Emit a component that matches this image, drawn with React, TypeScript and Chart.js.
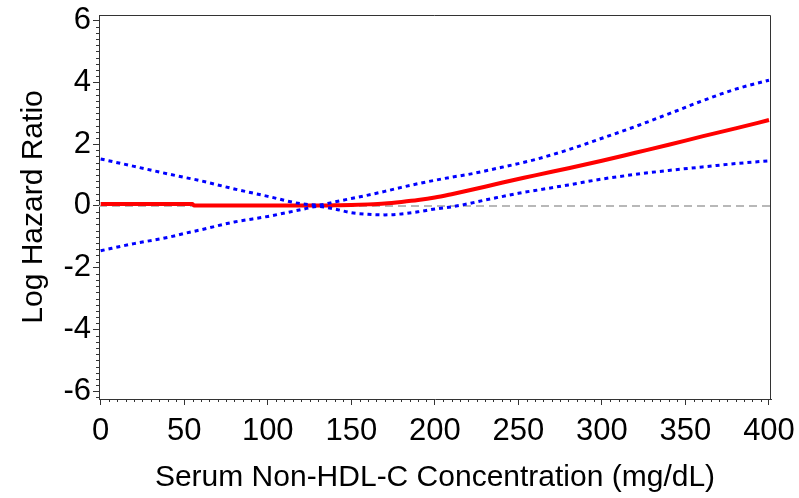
import React, { useEffect, useRef } from "react";
import { Chart, registerables } from "chart.js";

Chart.register(...registerables);

// Serum non-HDL-C concentration (mg/dL)
const xValues = [0, 20, 40, 55, 56, 80, 100, 120, 130, 140, 150, 160, 170, 180, 190, 200, 210, 220, 230, 240, 250, 260, 280, 300, 320, 340, 360, 380, 400];
// Log hazard ratio estimate
const estimate = [0.06, 0.06, 0.06, 0.06, 0.01, 0.01, 0.01, 0.01, 0.01, 0.02, 0.03, 0.05, 0.08, 0.13, 0.19, 0.27, 0.38, 0.5, 0.62, 0.75, 0.87, 0.99, 1.22, 1.46, 1.72, 1.98, 2.25, 2.51, 2.78];
// Upper 95% confidence limit
const upperCI = [1.52, 1.28, 1.04, 0.87, 0.86, 0.55, 0.31, 0.07, 0.03, 0.13, 0.24, 0.35, 0.47, 0.6, 0.72, 0.83, 0.93, 1.02, 1.13, 1.25, 1.37, 1.5, 1.82, 2.19, 2.57, 2.98, 3.4, 3.78, 4.07];
// Lower 95% confidence limit
const lowerCI = [-1.45, -1.22, -1.02, -0.83, -0.82, -0.52, -0.34, -0.12, -0.02, -0.1, -0.22, -0.27, -0.29, -0.26, -0.19, -0.1, -0.03, 0.07, 0.19, 0.3, 0.41, 0.5, 0.68, 0.87, 1.02, 1.15, 1.26, 1.37, 1.46];
// Reference line
const referenceX = [-1, 401.2];
const referenceY = [0, 0];

const xTickValues = [0, 50, 100, 150, 200, 250, 300, 350, 400];
const yTickValues = [-6, -4, -2, 0, 2, 4, 6];
const xMinorStep = 5;
const yMinorStep = 0.2;

const xTitle = "Serum Non-HDL-C Concentration (mg/dL)";
const yTitle = "Log Hazard Ratio";

const FONT = "'Liberation Sans', Arial, Helvetica, sans-serif";

export default function App() {
  const ref = useRef<HTMLCanvasElement | null>(null);

  useEffect(() => {
    document.body.style.margin = "0";
    const canvas = ref.current;
    if (!canvas) return;

    const pts = (ys: number[]) => xValues.map((x, i) => ({ x, y: ys[i] }));

    const framePlugin = {
      id: "frameAndMinor",
      afterDraw(chart: any) {
        const { ctx, chartArea, scales } = chart;
        const x = scales.x;
        const y = scales.y;
        ctx.save();
        ctx.strokeStyle = "#333333";
        ctx.lineWidth = 1;
        // top and right frame
        ctx.beginPath();
        ctx.moveTo(chartArea.left, chartArea.top + 0.5);
        ctx.lineTo(chartArea.right - 0.5, chartArea.top + 0.5);
        ctx.lineTo(chartArea.right - 0.5, chartArea.bottom);
        ctx.stroke();
        // minor ticks on y
        ctx.beginPath();
        for (let i = -40; i <= 40; i++) {
          const v = i * yMinorStep;
          if (i % 10 === 0) continue;
          const py = Math.round(y.getPixelForValue(v)) + 0.5;
          if (py < chartArea.top || py > chartArea.bottom) continue;
          ctx.moveTo(chartArea.left - 3, py);
          ctx.lineTo(chartArea.left, py);
        }
        // minor ticks on x
        for (let v = 0; v <= 400; v += xMinorStep) {
          if (v % 50 === 0) continue;
          const px = Math.round(x.getPixelForValue(v)) + 0.5;
          ctx.moveTo(px, chartArea.bottom);
          ctx.lineTo(px, chartArea.bottom + 3);
        }
        ctx.stroke();
        ctx.restore();
      },
    };

    const chart = new Chart(canvas, {
      type: "line",
      data: {
        datasets: [
          {
            label: "Upper",
            data: pts(upperCI),
            borderColor: "#0000ff",
            borderWidth: 3,
            borderDash: [4, 4],
            pointRadius: 0,
            cubicInterpolationMode: "monotone",
            fill: false,
          },
          {
            label: "Lower",
            data: pts(lowerCI),
            borderColor: "#0000ff",
            borderWidth: 3,
            borderDash: [4, 4],
            pointRadius: 0,
            cubicInterpolationMode: "monotone",
            fill: false,
          },
          {
            label: "Estimate",
            data: pts(estimate),
            borderColor: "#ff0000",
            borderWidth: 4,
            pointRadius: 0,
            cubicInterpolationMode: "monotone",
            fill: false,
          },
          {
            label: "Reference",
            data: referenceX.map((x, i) => ({ x, y: referenceY[i] })),
            borderColor: "#b8b8b8",
            borderWidth: 2,
            borderDash: [8, 5],
            pointRadius: 0,
            fill: false,
          },
        ],
      },
      options: {
        animation: false,
        responsive: false,
        maintainAspectRatio: false,
        devicePixelRatio: 1,
        layout: { padding: { top: 15, right: 28, left: 0, bottom: 0 } },
        plugins: {
          legend: { display: false },
          tooltip: { enabled: false },
        },
        scales: {
          x: {
            type: "linear",
            min: -1,
            max: 401.2,
            afterBuildTicks: (scale: any) => {
              scale.ticks = xTickValues.map((v) => ({ value: v }));
            },
            afterFit: (scale: any) => {
              scale.height = 99;
              scale.paddingLeft = 0;
              scale.paddingRight = 0;
            },
            grid: {
              display: true,
              drawOnChartArea: false,
              drawTicks: true,
              tickLength: 6,
              color: "#333333",
            },
            border: { display: true, color: "#333333", width: 1 },
            ticks: {
              autoSkip: false,
              maxRotation: 0,
              padding: 8,
              color: "#000000",
              font: { family: FONT, size: 31 },
            },
            title: {
              display: true,
              text: xTitle,
              color: "#000000",
              font: { family: FONT, size: 30 },
              padding: { top: 0, bottom: 2 },
            },
          },
          y: {
            type: "linear",
            min: -6.25,
            max: 6.18,
            afterBuildTicks: (scale: any) => {
              scale.ticks = yTickValues.map((v) => ({ value: v }));
            },
            afterFit: (scale: any) => {
              scale.width = 99;
              scale.paddingTop = 0;
              scale.paddingBottom = 0;
            },
            grid: {
              display: true,
              drawOnChartArea: false,
              drawTicks: true,
              tickLength: 6,
              color: "#333333",
            },
            border: { display: true, color: "#333333", width: 1 },
            ticks: {
              padding: 2,
              color: "#000000",
              font: { family: FONT, size: 31 },
            },
            title: {
              display: true,
              text: yTitle,
              color: "#000000",
              font: { family: FONT, size: 30 },
              padding: { top: 16, bottom: 0 },
            },
          },
        },
      },
      plugins: [framePlugin],
    });

    return () => chart.destroy();
  }, []);

  return (
    <div style={{ position: "fixed", left: 0, top: 0, width: 799, height: 498, background: "#ffffff" }}>
      <canvas ref={ref} width={799} height={498} style={{ width: 799, height: 498, display: "block" }} />
    </div>
  );
}
